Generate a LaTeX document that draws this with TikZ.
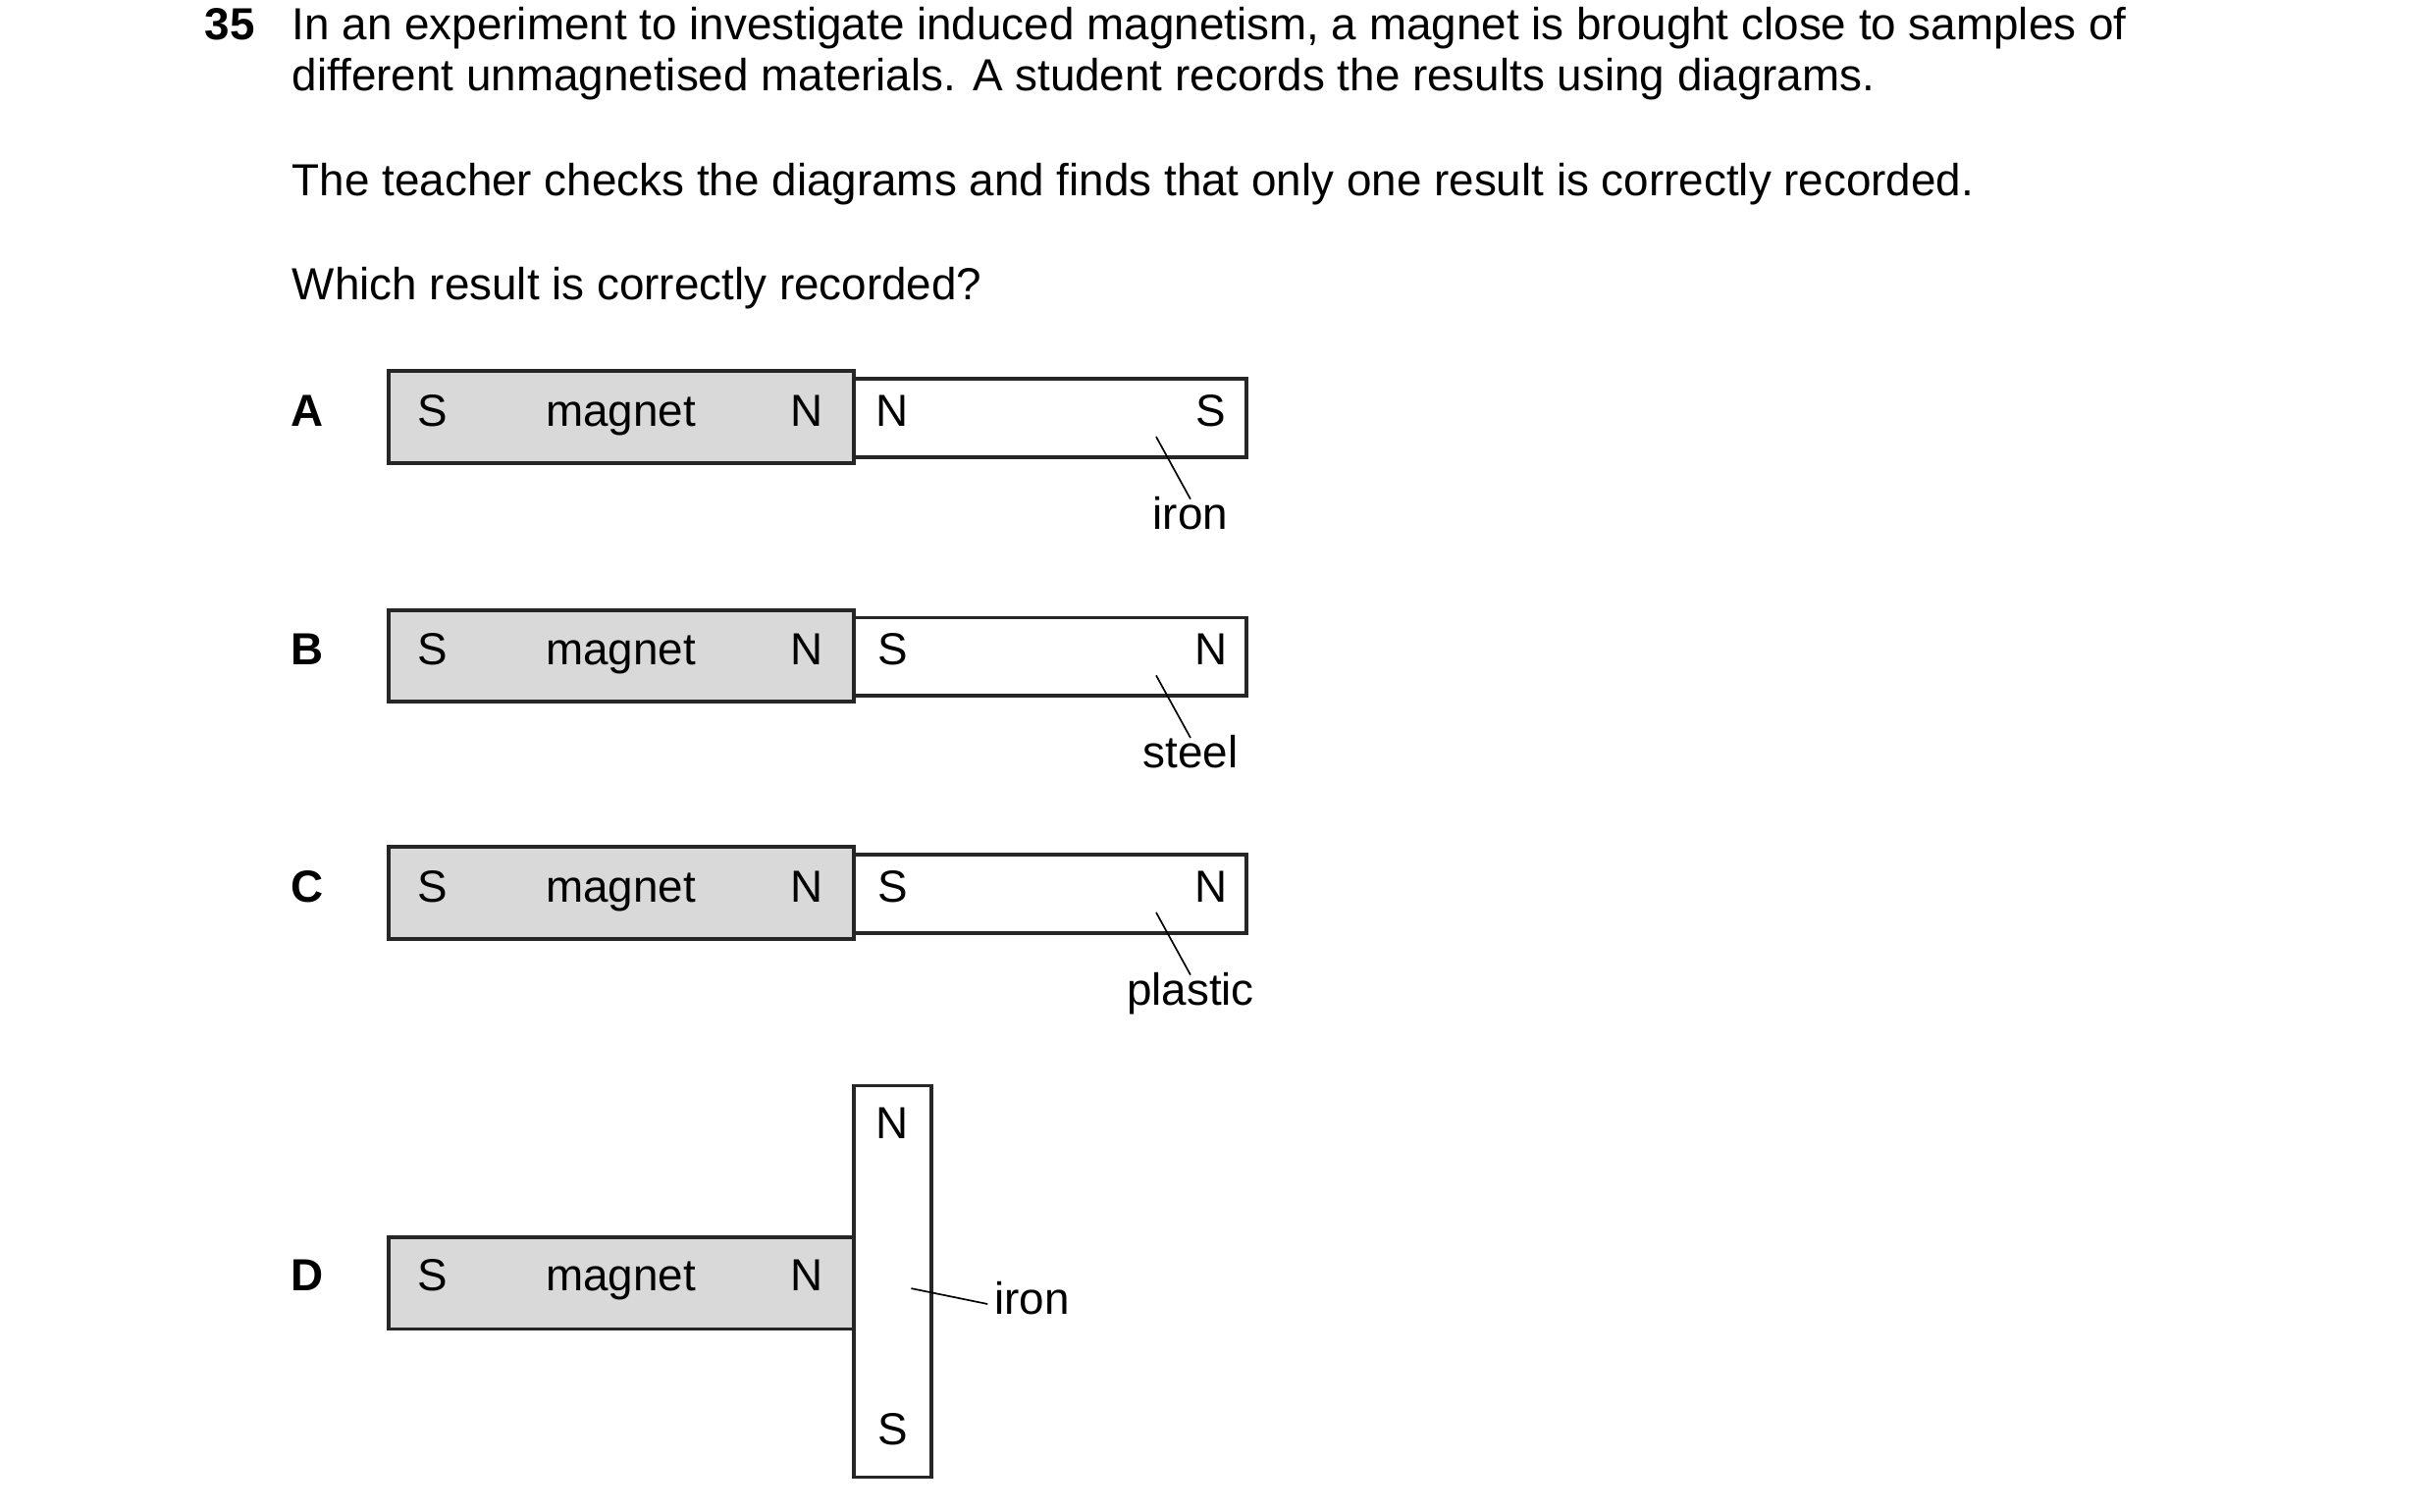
\documentclass[tikz,border=0pt]{standalone}
\usepackage{fontspec}
\setmainfont{Liberation Sans}
\begin{document}
\begin{tikzpicture}[x=0.02cm,y=-0.02cm,
  txt/.style={font=\fontsize{16.4}{19}\selectfont,inner sep=0pt,text height=0.716em,text depth=0pt},
  lbl/.style={font=\fontsize{16.4}{19}\selectfont\bfseries,inner sep=0pt,text height=0.716em,text depth=0pt},
  mag/.style={draw=black!85,line width=1.4pt,fill=black!15},
  smp/.style={draw=black!85,line width=1.4pt,fill=white},
  lead/.style={line width=0.6pt}]
\useasboundingbox (0,0) rectangle (1560,969);
\node[lbl,anchor=west] (q) at (131,19) {35};
\node[txt,anchor=west] (t1) at (187,19) {In an experiment to investigate induced magnetism, a magnet is brought close to samples of};
\node[txt,anchor=west] (t2) at (187,52) {different unmagnetised materials. A student records the results using diagrams.};
\node[txt,anchor=west] (t3) at (187,119) {The teacher checks the diagrams and finds that only one result is correctly recorded.};
\node[txt,anchor=west] (t4) at (187,186) {Which result is correctly recorded?};
\foreach \L/\yo/\a/\b/\mat in {A/0/N/S/iron,B/153/S/N/steel,C/305/S/N/plastic}{
  \begin{scope}[yshift={-\yo*0.02cm}]
  \node[lbl] (l\L) at (197,267) {\L};
  \draw[mag] (249,238) rectangle (547,297);
  \draw[smp] (547,243) rectangle (799,293);
  \node[txt] (s\L) at (277,267) {S};
  \node[txt] (m\L) at (398,267) {magnet};
  \node[txt] (n\L) at (517,267) {N};
  \node[txt] (a\L) at (572,267) {\a};
  \node[txt] (b\L) at (776,267) {\b};
  \coordinate (c\L) at (741,280);
  \node[txt] (w\L) at (763,333) {\mat};
  \draw[lead] (c\L) -- (763,320);
  \end{scope}}
\node[lbl] (lD) at (197,821) {D};
\draw[mag] (249,793) rectangle (547,852);
\draw[smp] (547,696) rectangle (597,947);
\node[txt] (sD) at (277,821) {S};
\node[txt] (mD) at (398,821) {magnet};
\node[txt] (nD) at (517,821) {N};
\node[txt] (aD) at (572,724) {N};
\node[txt] (bD) at (572,920) {S};
\coordinate (cD) at (584,826);
\node[txt,anchor=west] (wD) at (637,836) {iron};
\draw[lead] (cD) -- ([xshift=-0.08cm]wD.west);
\end{tikzpicture}
\end{document}
